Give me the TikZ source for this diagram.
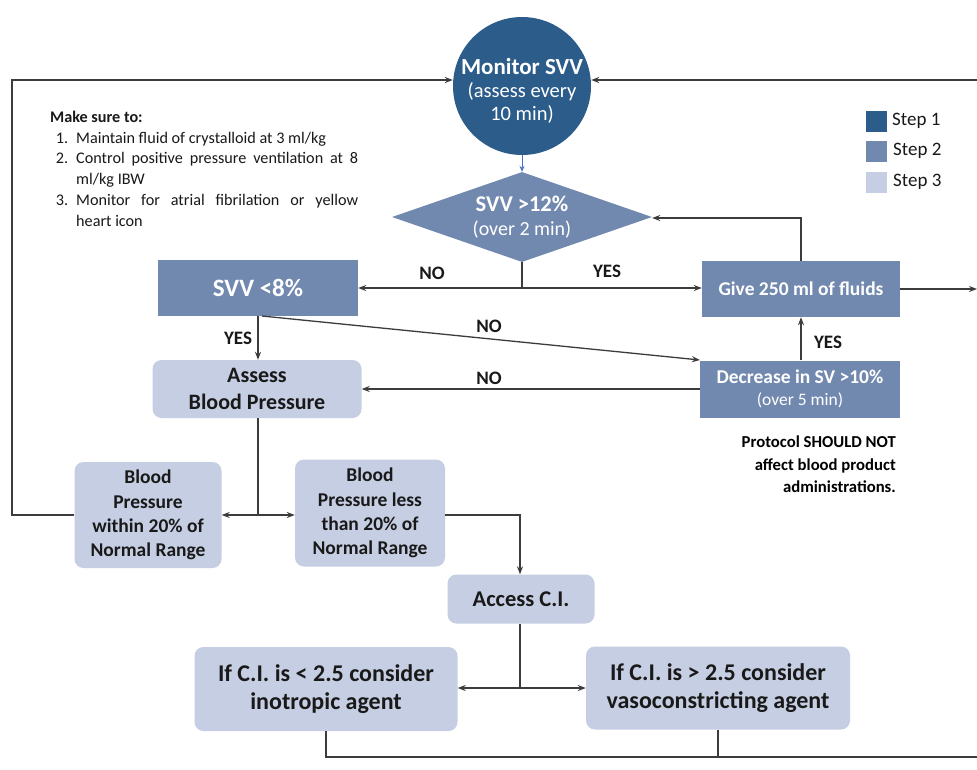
\documentclass[tikz,border=0pt]{standalone}
\usepackage{fontspec}
\setmainfont{Carlito}
\usetikzlibrary{shapes.geometric,arrows.meta}
\definecolor{stepone}{RGB}{44,92,138}
\definecolor{steptwo}{RGB}{114,137,175}
\definecolor{stepthree}{RGB}{197,206,226}
\definecolor{lineg}{RGB}{60,60,60}
\definecolor{txt}{RGB}{25,25,25}
\definecolor{bluearr}{RGB}{68,114,196}
\tikzset{
  x=1pt,y=-1pt,
  darkbox/.style={fill=steptwo,draw=none,text=white,font=\bfseries,align=center,inner sep=0pt},
  lightbox/.style={fill=stepthree,draw=none,rounded corners=9pt,text=txt,font=\bfseries,align=center,inner sep=0pt},
  plaintext/.style={inner sep=0pt,align=center},
  conn/.style={draw=lineg,line width=1.3pt},
  arr/.style={conn,-{Stealth[length=8pt,width=6pt]}},
  lbl/.style={font=\bfseries\fontsize{19}{21}\selectfont,text=txt},
  legsq/.style={minimum width=21pt,minimum height=21pt,inner sep=0pt,draw=none},
  legtxt/.style={anchor=west,font=\fontsize{19}{21}\selectfont,text=txt},
}
\begin{document}
\begin{tikzpicture}
\useasboundingbox (0,0) rectangle (977,769);
\fill[white] (0,0) rectangle (977,769);
% shapes
\node[circle,fill=stepone,minimum size=138pt,inner sep=0pt] (mon) at (522,86) {};
\node[plaintext,text=white,font=\fontsize{20.5}{23}\selectfont] (montext) at (522,91)
 {{\bfseries\fontsize{23}{26}\selectfont Monitor SVV}\\(assess every\\10 min)};
\node[diamond,fill=steptwo,minimum width=260pt,minimum height=90pt,inner sep=0pt,aspect=2.9] (dia) at (522,217) {};
\node[plaintext,text=white,font=\fontsize{20}{24}\selectfont] (diatext) at (522,217)
 {{\bfseries\fontsize{22.5}{24}\selectfont SVV >12\%}\\(over 2 min)};
\node[darkbox,minimum width=200pt,minimum height=56pt,font=\bfseries\fontsize{25}{28}\selectfont] (lt8) at (258,288) {SVV <8\%};
\node[darkbox,minimum width=198pt,minimum height=56pt,font=\bfseries\fontsize{19.5}{22}\selectfont] (give) at (801,289) {Give 250 ml of fluids};
\node[darkbox,minimum width=200pt,minimum height=57pt,font=\fontsize{17.5}{22}\selectfont] (dec) at (800,389)
 {{\bfseries\fontsize{19.5}{22}\selectfont Decrease in SV >10\%}\\{\mdseries (over 5 min)}};
\node[lightbox,minimum width=209pt,minimum height=58pt,font=\bfseries\fontsize{22}{27}\selectfont] (abp) at (257,389) {Assess\\Blood Pressure};
\node[lightbox,minimum width=147pt,minimum height=106pt,font=\bfseries\fontsize{19.5}{24.3}\selectfont] (bpw) at (148,515) {Blood\\Pressure\\within 20\% of\\Normal Range};
\node[lightbox,minimum width=150pt,minimum height=107pt,font=\bfseries\fontsize{19.5}{24.3}\selectfont] (bpl) at (370,513) {Blood\\Pressure less\\than 20\% of\\Normal Range};
\node[lightbox,minimum width=147pt,minimum height=49pt,font=\bfseries\fontsize{22.5}{25}\selectfont] (aci) at (521,599) {Access C.I.};
\node[lightbox,minimum width=263pt,minimum height=84pt,font=\bfseries\fontsize{24}{28}\selectfont] (cil) at (326,689) {If C.I. is < 2.5 consider\\inotropic agent};
\node[lightbox,minimum width=264pt,minimum height=83pt,font=\bfseries\fontsize{24}{28}\selectfont] (cig) at (718,688) {If C.I. is > 2.5 consider\\vasoconstricting agent};
% legend
\node[legsq,fill=stepone] (l1) at (876,121) {};
\node[legsq,fill=steptwo] (l2) at (876,151) {};
\node[legsq,fill=stepthree] (l3) at (876,182) {};
\node[legtxt] (t1) at ([xshift=2pt]l1.east) {Step 1};
\node[legtxt] (t2) at ([xshift=3pt]l2.east) {Step 2};
\node[legtxt] (t3) at ([xshift=3pt]l3.east) {Step 3};
% notes
\node[anchor=north west,inner sep=0pt,text width=308pt,align=justify,font=\fontsize{16.2}{20.7}\selectfont,text=txt] (note) at (50,111)
 {\textbf{Make sure to:}\par
 \begin{list}{}{\leftmargin=26pt\labelwidth=18pt\labelsep=8pt\itemsep=0pt\parsep=0pt\topsep=0pt\partopsep=0pt\itemindent=0pt}
 \item[1.] Maintain fluid of crystalloid at 3 ml/kg
 \item[2.] Control positive pressure ventilation at 8 ml/kg IBW
 \item[3.] Monitor for atrial fibrilation or yellow\linebreak heart icon
 \end{list}};
\node[anchor=north east,inner sep=0pt,align=right,font=\bfseries\fontsize{16.7}{22.5}\selectfont,text=black] (prot) at (896,436)
 {Protocol SHOULD NOT\\affect blood product\\administrations.};
% coordinates
\coordinate (tl) at (12,80);
\coordinate (bl) at (12,515);
\coordinate (tr) at (977,80);
\coordinate (gr) at (977,289);
\coordinate (br) at (977,757);
\coordinate (split1) at (522,288);
\coordinate (split2) at (258,515);
\coordinate (bend1) at (520,515);
\coordinate (split3) at (520,688);
\coordinate (bend2) at (801,218);
\coordinate (join1) at (326,757);
\coordinate (join2) at (718,757);
\coordinate (diagstart) at (262,316);
\coordinate (diagend) at (700,360);
% connectors
\draw[arr] (bpw.west |- bl) -- (bl) -- (tl) -- (mon.west |- tl);
\draw[arr] (tr) -- (mon.east |- tr);
\draw[-{Stealth[length=6pt,width=5pt]},draw=bluearr,line width=1pt] (mon.south) -- (dia.north);
\draw[conn] (dia.south) -- (split1);
\draw[arr] (split1) -- (lt8.east |- split1);
\draw[arr] (split1) -- (give.west |- split1);
\draw[arr] (give.north) -- (bend2) -- (dia.east |- bend2);
\draw[arr] (give.east) -- (gr);
\draw[arr] (dec.north -| give) -- (give.south);
\draw[arr] (lt8.south) -- (abp.north -| lt8);
\draw[arr] (diagstart) -- (diagend);
\draw[arr] (dec.west) -- (abp.east |- dec.west);
\draw[conn] (abp.south -| split2) -- (split2);
\draw[arr] (split2) -- (bpw.east |- split2);
\draw[arr] (split2) -- (bpl.west |- split2);
\draw[arr] (bpl.east |- bend1) -- (bend1) -- (aci.north -| bend1);
\draw[conn] (aci.south -| split3) -- (split3);
\draw[arr] (split3) -- (cil.east |- split3);
\draw[arr] (split3) -- (cig.west |- split3);
\draw[conn] (cil.south) -- (join1) -- (br);
\draw[conn] (cig.south) -- (join2);
% labels
\node[lbl] (no1) at (432,273) {NO};
\node[lbl] (yes1) at (607,271) {YES};
\node[lbl] (no2) at (489,326) {NO};
\node[lbl] (yes2) at (238,338) {YES};
\node[lbl] (no3) at (489,378) {NO};
\node[lbl] (yes3) at (828,342) {YES};
\end{tikzpicture}
\end{document}
